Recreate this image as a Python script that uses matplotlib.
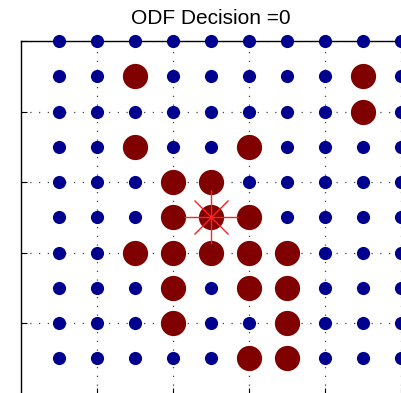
import numpy as np
import matplotlib.pyplot as plt

# grid 10x10, rows listed from top (y=10) to bottom (y=1); 1 = decision point (red)
decision = [
    [0, 0, 0, 0, 0, 0, 0, 0, 0, 0],
    [0, 0, 1, 0, 0, 0, 0, 0, 1, 0],
    [0, 0, 0, 0, 0, 0, 0, 0, 1, 0],
    [0, 0, 1, 0, 0, 1, 0, 0, 0, 0],
    [0, 0, 0, 1, 1, 0, 0, 0, 0, 0],
    [0, 0, 0, 1, 1, 1, 0, 0, 0, 0],
    [0, 0, 1, 1, 1, 1, 1, 0, 0, 0],
    [0, 0, 0, 1, 0, 1, 1, 0, 0, 0],
    [0, 0, 0, 1, 0, 0, 1, 0, 0, 0],
    [0, 0, 0, 0, 0, 1, 1, 0, 0, 0],
]
x_vals = np.arange(1, 11)
y_vals = np.arange(10, 0, -1)
query_point = (5, 5)
title = "ODF Decision =0"

plt.rcParams['font.family'] = ['Liberation Sans', 'DejaVu Sans']

W, H = 401, 393
fig = plt.figure(figsize=(W / 100, H / 100), dpi=100)

# axes: x=0 at px 21, 38 px per unit, xlim 0..11 ; y=10 at px 41, y=0 at px 393.5
left, top = 21, 41
x_unit = 38.0
y_unit = 35.25
ax_w = 11 * x_unit
ax_h = 10 * y_unit
ax = fig.add_axes([left / W, 1 - (top + ax_h) / H, ax_w / W, ax_h / H])
ax.set_xlim(0, 11)
ax.set_ylim(0, 10)

D = np.array(decision)
X, Y = np.meshgrid(x_vals, y_vals)
blue = D == 0
red = D == 1
ax.scatter(X[blue], Y[blue], s=90, c='#00008F', linewidths=0, zorder=3, clip_on=False)
ax.scatter(X[red], Y[red], s=330, c='#800000', linewidths=0, zorder=3, clip_on=False)

# star-like query marker
ax.plot(*query_point, marker='+', ms=39, mew=1.0, color='#FF2020', zorder=4)
ax.plot(*query_point, marker='x', ms=25, mew=1.0, color='#FF2020', zorder=4)

ax.set_xticks([2, 4, 6, 8, 10])
ax.set_yticks([2, 4, 6, 8, 10])
ax.tick_params(direction='in', length=4, width=0.8, labelleft=False, labelbottom=False,
               color='black')
ax.grid(True, linestyle=(0, (1, 6)), color='#444444', linewidth=0.9)
for s in ax.spines.values():
    s.set_linewidth(1.0)
    s.set_color('black')

fig.text(211 / W, 1 - 18 / H, title, ha='center', va='center', fontsize=15)

fig.savefig('out.png', dpi=100)
